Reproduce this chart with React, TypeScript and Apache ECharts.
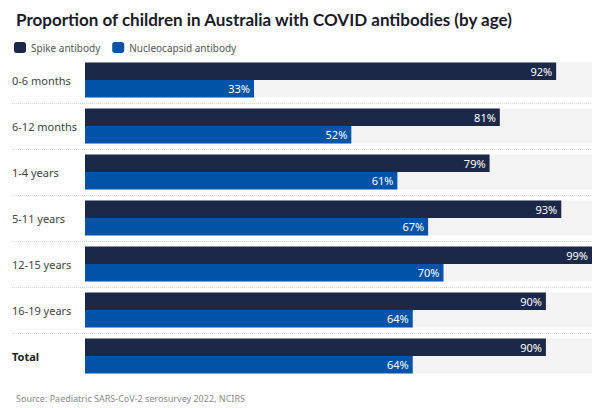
import React, { useEffect, useRef } from "react";
import * as echarts from "echarts";

const categories = ["0-6 months", "6-12 months", "1-4 years", "5-11 years", "12-15 years", "16-19 years", "Total"];
const spikeValues = [92, 81, 79, 93, 99, 90, 90];
const nucleocapsidValues = [33, 52, 61, 67, 70, 64, 64];
const seriesNames = ["Spike antibody", "Nucleocapsid antibody"];
const titleText = "Proportion of children in Australia with COVID antibodies (by age)";
const sourceText = "Source: Paediatric SARS-CoV-2 serosurvey 2022, NCIRS";

const TITLE_FONT = "Lato, sans-serif";
const FONT = "'Noto Sans', sans-serif";

export default function App() {
  const ref = useRef<HTMLDivElement>(null);
  useEffect(() => {
    if (!ref.current) return;
    const chart = echarts.init(ref.current, null, { renderer: "svg" });
    const barLabel = {
      show: true,
      position: "insideRight",
      distance: 4,
      color: "#ffffff",
      fontSize: 11,
      fontFamily: FONT,
      formatter: "{c}%",
    };
    chart.setOption({
      animation: false,
      backgroundColor: "#ffffff",
      textStyle: { fontFamily: FONT },
      title: [
        {
          text: titleText,
          left: 11,
          top: 6,
          textStyle: { fontSize: 17, fontWeight: "bold", color: "#1a1a2a", fontFamily: TITLE_FONT },
        },
        {
          text: sourceText,
          left: 11,
          top: 389,
          textStyle: { fontSize: 9, fontWeight: "normal", color: "#8a8a8a", fontFamily: FONT },
        },
      ],
      legend: {
        data: seriesNames,
        left: 9,
        top: 37,
        icon: "roundRect",
        itemWidth: 12,
        itemHeight: 11,
        itemGap: 12,
        textStyle: { fontSize: 10, color: "#555", fontFamily: FONT },
      },
      grid: [
        { left: 85, right: 10, top: 57, height: 322 },
        { left: 12, right: 10, top: 57, height: 322 },
      ],
      xAxis: [
        { type: "value", gridIndex: 0, min: 0, max: "dataMax", show: false },
        { type: "value", gridIndex: 1, min: 0, max: 100, show: false },
      ],
      yAxis: [
        {
          type: "category",
          gridIndex: 0,
          data: categories,
          inverse: true,
          axisLine: { show: false },
          axisTick: { show: false },
          splitLine: { show: false },
          axisLabel: {
            align: "left",
            margin: 73,
            fontSize: 11,
            color: "#444",
            fontFamily: FONT,
            formatter: (v: string) => (v === "Total" ? "{b|" + v + "}" : v),
            rich: { b: { fontWeight: "bold", fontSize: 11, color: "#222", fontFamily: FONT } },
          },
        },
        {
          type: "category",
          gridIndex: 1,
          data: categories,
          inverse: true,
          axisLine: { show: false },
          axisTick: { show: false },
          axisLabel: { show: false },
          splitLine: {
            show: true,
            showMinLine: false,
            showMaxLine: false,
            lineStyle: { type: "dotted", color: "#d8d8d8", width: 1 },
          },
        },
      ],
      series: [
        {
          name: seriesNames[0],
          type: "bar",
          xAxisIndex: 0,
          yAxisIndex: 0,
          data: spikeValues,
          barGap: "0%",
          barCategoryGap: "24%",
          itemStyle: { color: "#1b2847" },
          showBackground: true,
          backgroundStyle: { color: "#f3f3f3" },
          label: barLabel,
        },
        {
          name: seriesNames[1],
          type: "bar",
          xAxisIndex: 0,
          yAxisIndex: 0,
          data: nucleocapsidValues,
          barGap: "0%",
          barCategoryGap: "24%",
          itemStyle: { color: "#0053a6" },
          showBackground: true,
          backgroundStyle: { color: "#f3f3f3" },
          label: barLabel,
        },
      ],
    });
    return () => chart.dispose();
  }, []);
  return (
    <div
      ref={ref}
      style={{ position: "fixed", left: 0, top: 0, width: 602, height: 408 }}
    />
  );
}
